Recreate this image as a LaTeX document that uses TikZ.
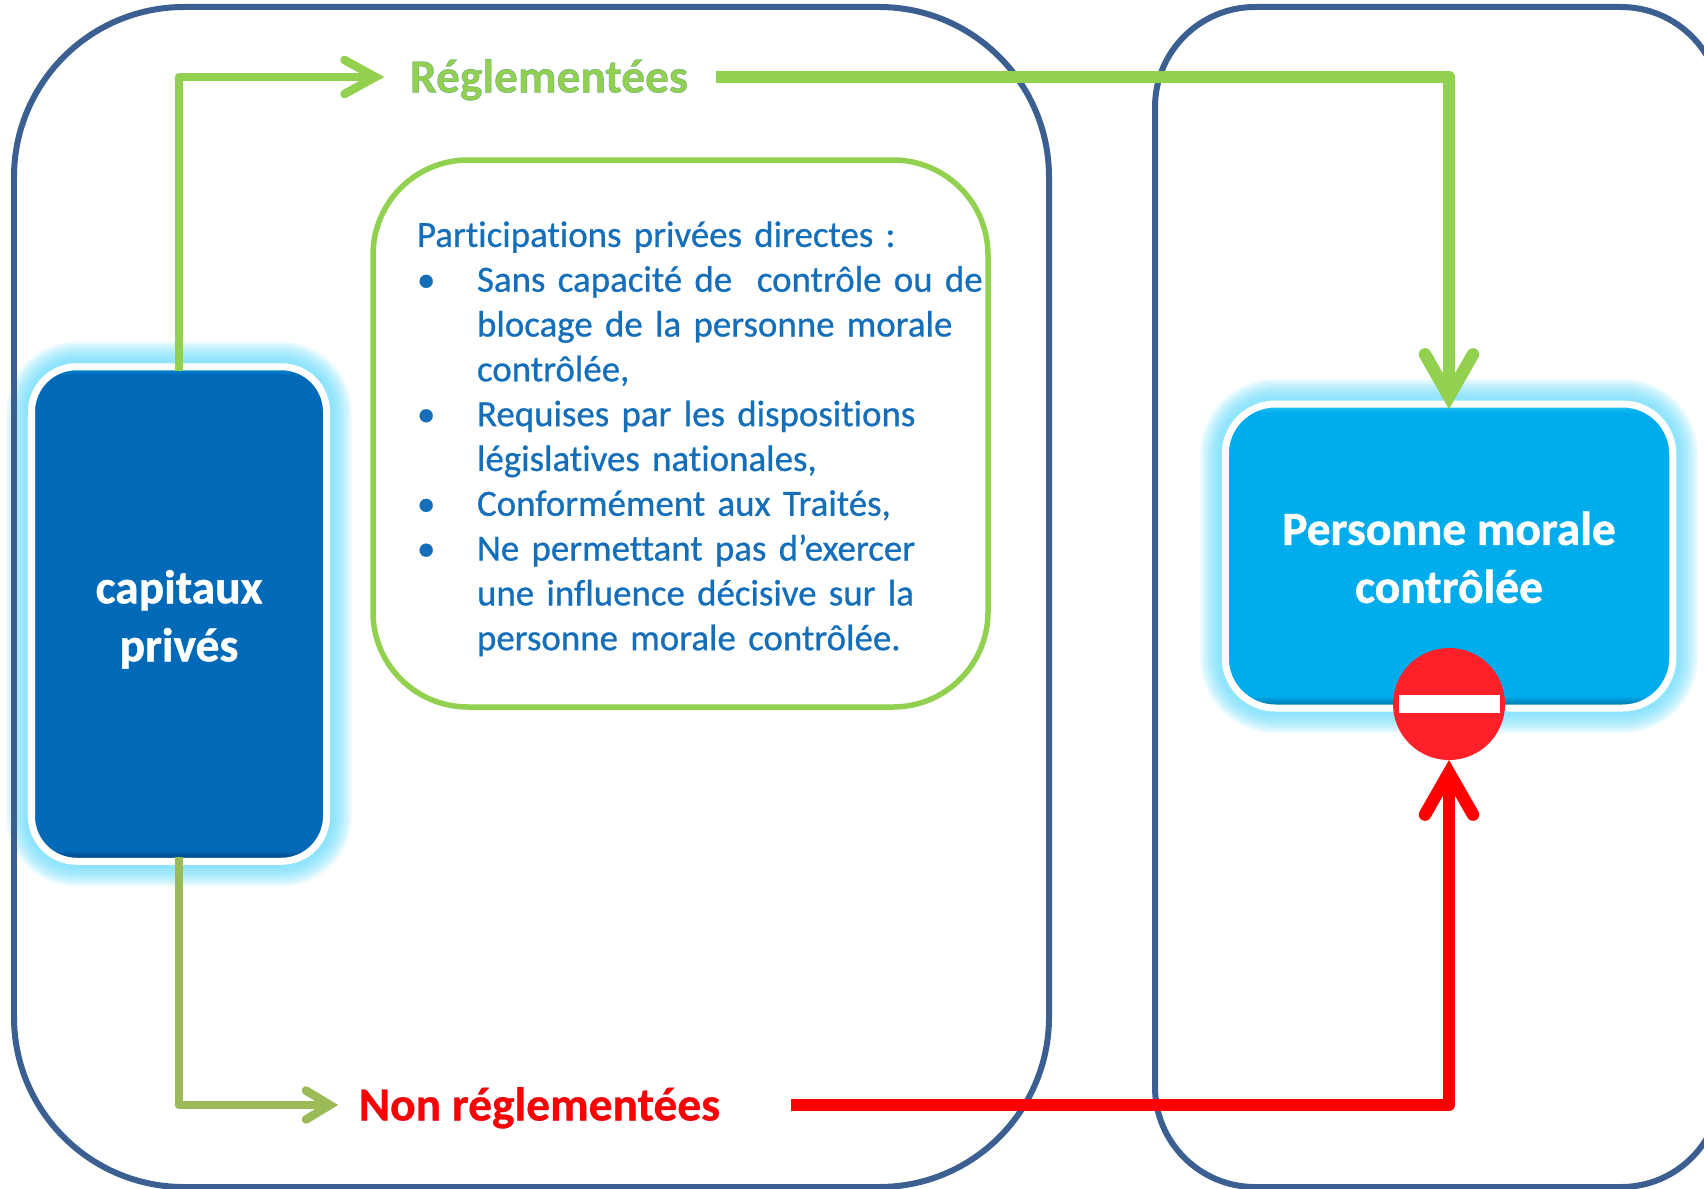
\documentclass[tikz,border=0pt]{standalone}
\usepackage{fontspec}
\setmainfont[Ligatures=CommonOff]{Carlito}
\definecolor{framblue}{RGB}{60,95,145}
\definecolor{capblue}{RGB}{0,106,184}
\definecolor{capdark}{RGB}{0,62,115}
\definecolor{caplight}{RGB}{0,150,215}
\definecolor{persblue}{RGB}{0,172,236}
\definecolor{persdark}{RGB}{0,100,150}
\definecolor{perslight}{RGB}{40,195,245}
\definecolor{glowblue}{RGB}{90,215,250}
\definecolor{reggreen}{RGB}{146,208,80}
\definecolor{olivegreen}{RGB}{155,187,89}
\definecolor{stopred}{RGB}{255,32,42}
\definecolor{textblue}{RGB}{20,110,185}
\pgfdeclareverticalshading{capshade}{100bp}{color(0bp)=(capdark); color(25bp)=(capdark); color(26.2bp)=(capblue); color(74.2bp)=(capblue); color(75bp)=(caplight); color(100bp)=(caplight)}
\pgfdeclareverticalshading{persshade}{100bp}{color(0bp)=(persdark); color(25bp)=(persdark); color(27bp)=(persblue); color(73.5bp)=(persblue); color(75bp)=(perslight); color(100bp)=(perslight)}
\usetikzlibrary{arrows.meta}
\usetikzlibrary{backgrounds}
\tikzset{
  frame/.style={draw=framblue, line width=0.06cm, rounded corners=#1, outer sep=0pt, minimum height=11.8cm},
  bigbox/.style={draw=white, line width=0.07cm, outer sep=0pt, align=center, text=white, font=\bfseries\fontsize{13.5}{16.5}\selectfont\addfontfeature{FakeBold=1}},
  thinline/.style={line width=0.085cm, line join=round},
  thickline/.style={line width=0.125cm, line join=round, -{Straight Barb[length=0.42cm, width=0.48cm, line cap=round, line join=miter]}},
  label/.style={inner xsep=0.2cm, inner ysep=0pt, text height=0.41cm, text depth=0.1cm, font=\bfseries\fontsize{13.5}{16}\selectfont\addfontfeature{FakeBold=0.6}},
}
\newcommand{\glowbox}[2]{
  \foreach \w in {0.5,0.45,0.4,0.35,0.3,0.25,0.2,0.15} {
    \draw [glowblue, opacity=0.13, line width=\w cm, rounded corners=#2] (#1.south west) rectangle (#1.north east);
  }
}
\newcommand{\bulletlabel}[1]{\hspace*{0.29cm}#1\hfil}
% fill colour, edge colour, text
\newcommand{\edged}[3]{\special{pdf:bcolor [#1] [#2]}#3\special{pdf:ecolor}}
\begin{document}
\begin{tikzpicture}
  \clip (0,0) rectangle (17.04,11.88);

  % the two frames
  \node [frame=1.7cm, minimum width=10.35cm] (publicframe) at (5.315,5.91) {};
  \node [frame=1cm, minimum width=5.66cm] (controlframe) at (14.38,5.91) {};

  % the two boxes
  \node [bigbox, shading=capshade, rounded corners=0.45cm, minimum width=2.95cm, minimum height=4.945cm] (capitaux) at (1.79,5.74) {\rule{0pt}{0.44cm}capitaux\\privés};
  \node [bigbox, shading=persshade, rounded corners=0.5cm, minimum width=4.475cm, minimum height=3.04cm] (personne) at (14.49,6.32) {\rule{0pt}{0.36cm}Personne morale\\contrôlée};
  \begin{scope}[on background layer]
    \glowbox{capitaux}{0.45cm}
    \glowbox{personne}{0.5cm}
  \end{scope}

  % text in the middle
  \node [draw=reggreen, line width=0.055cm, rounded corners=0.95cm, outer sep=0pt, minimum width=6.15cm, minimum height=5.47cm,
  inner xsep=0.15cm, text width=5.85cm, text=textblue, font=\fontsize{10.5}{12.75}\selectfont\addfontfeature{FakeBold=0.7}] (participations) at (6.805,7.545) {%
    \raggedright\leftskip=0.29cm
    \rule{0pt}{0.36cm}Participations privées directes :
    \begin{list}{\textbullet}{\setlength{\leftmargin}{0.89cm}\setlength{\labelwidth}{0.89cm}\setlength{\labelsep}{0pt}\setlength{\topsep}{0pt}\setlength{\partopsep}{0pt}\setlength{\itemsep}{0pt}\setlength{\parsep}{0pt}\let\makelabel\bulletlabel}
    \item \makebox[0pt][l]{Sans capacité de~ contrôle ou de}\\blocage de la personne morale\\contrôlée,
    \item Requises par les dispositions\\législatives nationales,
    \item Conformément aux Traités,
    \item Ne permettant pas d’exercer\\une influence décisive sur la\\personne morale contrôlée.
    \end{list}};

  % labels
  \node [label] (reglementees) at (5.49,11.11) {\edged{0.57 0.82 0.31}{0.35 0.6 0.55}{Réglementées}};
  \node [label] (nonreglementees) at (5.395,0.83) {\edged{1 0 0}{0.75 0.05 0.15}{Non réglementées}};

  % stop sign
  \node [circle, fill=stopred, minimum size=1.12cm, inner sep=0pt, outer sep=0pt] (stop) at (14.49,4.84) {};
  \node [fill=white, minimum width=1.01cm, minimum height=0.18cm, inner sep=0pt] (stopbar) at (stop) {};

  % the connectors
  \draw [thinline, reggreen, shorten <=-0.04cm, shorten >=0.05cm, -{Straight Barb[length=0.31cm, width=0.34cm, line cap=round, line join=miter]}] (capitaux.north) |- (reglementees.west);
  \draw [thickline, reggreen, shorten <=0.07cm, shorten >=-0.05cm] (reglementees.east) -| (personne.north);
  \draw [thinline, olivegreen, shorten <=-0.04cm, -{Straight Barb[length=0.24cm, width=0.29cm, line cap=round, line join=miter]}] (capitaux.south) |- (nonreglementees.west);
  \draw [thickline, red, shorten <=0.5cm] (nonreglementees.east) -| (stop.south);
\end{tikzpicture}
\end{document}
